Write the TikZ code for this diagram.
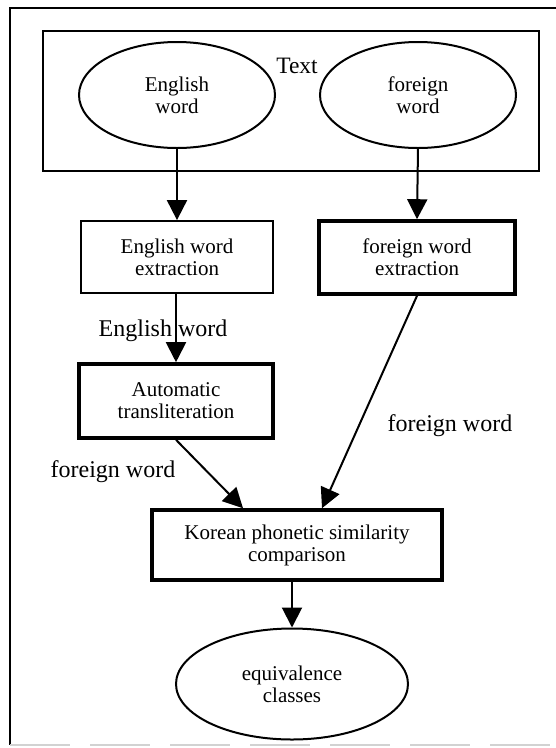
\documentclass[tikz,border=0pt]{standalone}
\usepackage{fontspec}
\setmainfont{Liberation Serif}
\usetikzlibrary{arrows.meta,shapes.geometric}
\begin{document}
\begin{tikzpicture}[x=1pt,y=-1pt,
  nodefont/.style={font=\fontsize{21}{22}\selectfont},
  lblfont/.style={font=\fontsize{24}{26}\selectfont},
  thinbox/.style={draw,rectangle,line width=1.8pt,inner sep=0pt,align=center,nodefont},
  thickbox/.style={draw,rectangle,line width=3.6pt,inner sep=0pt,align=center,nodefont},
  oval/.style={draw,ellipse,line width=2pt,inner sep=0pt,align=center,nodefont},
  arr/.style={line width=2pt,-{Triangle[length=20pt,width=20pt]}},
  lbl/.style={inner sep=0pt,lblfont}]
\useasboundingbox (0,0) rectangle (556,748);
% outer frame
\draw[line width=2pt] (556,8) -- (10,8) -- (10,745);
\draw[line width=1.5pt,gray!35,dash pattern=on 60pt off 20pt] (10,745) -- (556,745);
% Text container
\node[thinbox,minimum width=496pt,minimum height=140pt] (textbox) at (291,101) {};
\node[lbl,font=\fontsize{23.5}{25}\selectfont] (textlbl) at (297,66) {Text};
% ellipses
\node[oval,minimum width=196pt,minimum height=106pt] (ellE) at (177,95) {English\\word};
\node[oval,minimum width=196pt,minimum height=106pt] (ellF) at (418,95) {foreign\\word};
% extraction boxes
\node[thinbox,minimum width=192pt,minimum height=72pt] (boxE) at (177,257) {English word\\extraction};
\node[thickbox,minimum width=196pt,minimum height=73pt] (boxF) at (417,257.5) {foreign word\\extraction};
% transliteration
\node[thickbox,minimum width=194pt,minimum height=74pt] (boxA) at (176,401) {Automatic\\transliteration};
% Korean comparison
\node[thickbox,minimum width=290pt,minimum height=70pt] (boxK) at (297,545) {Korean phonetic similarity\\comparison};
% equivalence classes
\node[oval,minimum width=232pt,minimum height=111pt] (ellC) at (292,684) {equivalence\\classes};
% connector labels
\node[lbl] (lblEW) at (163,331) {English word};
\node[lbl] (lblFL) at (113,472) {foreign word};
\node[lbl] (lblFR) at (450,426) {foreign word};
% connectors
\draw[arr] (ellE.south) -- (boxE.north);
\draw[arr] (ellF.south) -- (boxF.north);
\draw[arr] (boxE.south -| boxA.north) -- (boxA.north);
\draw[arr] (boxA.south) -- ([xshift=-54pt]boxK.north);
\draw[arr] (boxF.south) -- ([xshift=25pt]boxK.north);
\draw[arr] (boxK.south -| ellC.north) -- (ellC.north);
\end{tikzpicture}
\end{document}
